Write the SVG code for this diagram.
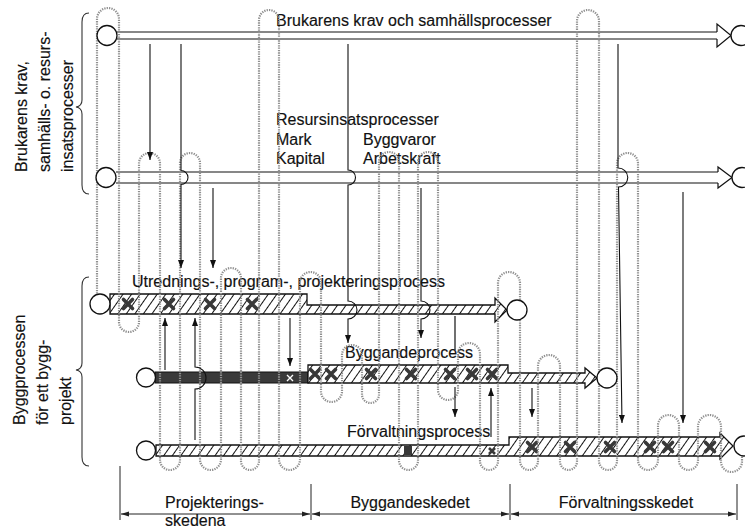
<svg xmlns="http://www.w3.org/2000/svg" width="745" height="528" viewBox="0 0 745 528">
<style>
.t{font-family:"Liberation Sans",Arial,sans-serif;font-size:16px;fill:#111;stroke:#111;stroke-width:0.15}
.ln{fill:none;stroke:#111;stroke-width:1.2}
.ar{fill:none;stroke:#111;stroke-width:1.1;marker-end:url(#ah)}
.cir{fill:#fff;stroke:#111;stroke-width:1.3}
.bar{fill:url(#hatch);stroke:#111;stroke-width:1.3}
.dark{fill:#3a3a3a;stroke:#111;stroke-width:1.2}
.mean{fill:none;stroke:#909090;stroke-width:2.2;stroke-dasharray:1.3 1.1}
.ax{fill:none;stroke:#222;stroke-width:1;marker-start:url(#sa);marker-end:url(#sa)}
.tick{stroke:#222;stroke-width:1}
.brace{fill:none;stroke:#333;stroke-width:1.1}
.cx{fill:none;stroke:#383838;stroke-width:3.6;stroke-linecap:round}
</style>
<defs>
<pattern id="hatch" patternUnits="userSpaceOnUse" width="7" height="10" patternTransform="rotate(35)">
<rect width="7" height="10" fill="#fff"/>
<line x1="3.5" y1="-1" x2="3.5" y2="11" stroke="#111" stroke-width="1"/>
</pattern>
<marker id="ah" markerWidth="8" markerHeight="6" refX="8" refY="3" orient="auto" markerUnits="userSpaceOnUse">
<path d="M0,0 L8,3 L0,6 z" fill="#111"/>
</marker>
<marker id="sa" markerWidth="8" markerHeight="6" refX="8" refY="3" orient="auto-start-reverse" markerUnits="userSpaceOnUse">
<path d="M0,0.5 L8,3 L0,5.5 z" fill="#222"/>
</marker>
<g id="cross"><path class="cx" d="M-4.5,-4.5 L4.5,4.5 M4.5,-4.5 L-4.5,4.5"/></g>
</defs>

<g id="braces">
<path class="brace" d="M89 13 Q82 13 82 22 L82 100 Q82 106 76 107 Q82 108 82 114 L82 185 Q82 194 89 194"/>
<path class="brace" d="M89 277 Q82 277 82 286 L82 363 Q82 369 76 370 Q82 371 82 377 L82 457 Q82 466 89 466"/>
</g>

<g id="side-labels">
<text class="t" transform="translate(27,172) rotate(-90)">Brukarens krav,</text>
<text class="t" transform="translate(50,172) rotate(-90)">samhälls- o. resurs-</text>
<text class="t" transform="translate(73,172) rotate(-90)">insatsprocesser</text>
<text class="t" transform="translate(25,425) rotate(-90)">Byggprocessen</text>
<text class="t" transform="translate(48,425) rotate(-90)">för ett bygg-</text>
<text class="t" transform="translate(71,425) rotate(-90)">projekt</text>
</g>

<g id="row-brukarens">
<line class="ln" x1="117" y1="32" x2="717" y2="32"/>
<line class="ln" x1="117" y1="39" x2="717" y2="39"/>
<path class="ln" d="M717 32 L717 24 L731 35.5 L717 47 L717 39"/>
<text class="t" x="276" y="26">Brukarens krav och samhällsprocesser</text>
</g>

<g id="row-resurs">
<line class="ln" x1="116" y1="172" x2="718" y2="172"/>
<line class="ln" x1="116" y1="183" x2="718" y2="183"/>
<path class="ln" d="M718 172 L718 167 L732 177.5 L718 188 L718 183"/>
<text class="t" x="276" y="125">Resursinsatsprocesser</text>
<text class="t" x="276" y="145">Mark</text>
<text class="t" x="363" y="145">Byggvaror</text>
<text class="t" x="276" y="164">Kapital</text>
<text class="t" x="363" y="164">Arbetskraft</text>
</g>

<g id="bar-utredning">
<path class="bar" d="M110 294 L307 294 L307 305 L495 305 L495 298 L507 310 L495 322 L495 314 L110 314 Z"/>
<use href="#cross" x="128" y="304"/>
<use href="#cross" x="169" y="304"/>
<use href="#cross" x="210" y="304"/>
<use href="#cross" x="252" y="304"/>
<text class="t" x="132" y="287">Utrednings-, program-, projekteringsprocess</text>
</g>

<g id="bar-byggande">
<path class="dark" d="M155 372 L308 372 L308 383 L155 383 Z"/>
<path d="M287 375 L293 381 M293 375 L287 381" stroke="#fff" stroke-width="1.4"/>
<path class="bar" d="M308 365 L508 365 L508 373 L585 373 L585 368 L597 378 L585 388 L585 383 L308 383 Z"/>
<use href="#cross" x="315" y="374"/>
<use href="#cross" x="331" y="374"/>
<use href="#cross" x="371" y="374"/>
<use href="#cross" x="411" y="374"/>
<use href="#cross" x="450" y="374"/>
<use href="#cross" x="472" y="374"/>
<use href="#cross" x="492" y="374"/>
<text class="t" x="345" y="358">Byggandeprocess</text>
</g>

<g id="bar-forvaltning">
<path class="bar" d="M156 445 L509 445 L509 437 L720 437 L720 433 L733 446 L720 459 L720 456 L156 456 Z"/>
<rect x="404" y="446" width="8" height="9" fill="#383838"/>
<path d="M489 448 L495 454 M495 448 L489 454" stroke="#383838" stroke-width="2.6"/>
<use href="#cross" x="532" y="447"/>
<use href="#cross" x="570" y="447"/>
<use href="#cross" x="610" y="447"/>
<use href="#cross" x="650" y="447"/>
<use href="#cross" x="668" y="447"/>
<use href="#cross" x="710" y="447"/>
<text class="t" x="347" y="437">Förvaltningsprocess</text>
</g>

<g id="feedback-loop">
<path class="mean" d="M97 296 L97 19 A11 11 0 0 1 119 19 L119 322 A10 10 0 0 0 139 322 L139 163.5 A10.5 10.5 0 0 1 160 163.5 L160 460 A10 10 0 0 0 180 460 L180 163 A10 10 0 0 1 200 163 L200 459.5 A10.5 10.5 0 0 0 221 459.5 L221 278 A10 10 0 0 1 241 278 L241 461 A9 9 0 0 0 259 461 L259 20 A10 10 0 0 1 279 20 L279 459.5 A10.5 10.5 0 0 0 300 459.5 L300 282.5 A10.5 10.5 0 0 1 321 282.5 L321 391.5 A10.5 10.5 0 0 0 342 391.5 L342 355 A10 10 0 0 1 362 355 L362 394.5 A8.5 8.5 0 0 0 379 394.5 L379 162 A10 10 0 0 1 399 162 L399 460.5 A9.5 9.5 0 0 0 418 460.5 L418 162 A10 10 0 0 1 438 162 L438 390 A10 10 0 0 0 458 390 L458 354 A11 11 0 0 1 480 354 L480 461 A9 9 0 0 0 498 461 L498 283 A11 11 0 0 1 520 283 L520 461 A9 9 0 0 0 538 461 L538 366 A11 11 0 0 1 560 366 L560 461.5 A8.5 8.5 0 0 0 577 461.5 L577 21 A11 11 0 0 1 599 21 L599 461 A9 9 0 0 0 617 461 L617 163.5 A10.5 10.5 0 0 1 638 163.5 L638 460 A10 10 0 0 0 658 460 L658 425.5 A10.5 10.5 0 0 1 679 425.5 L679 460.5 A9.5 9.5 0 0 0 698 460.5 L698 426.5 A11.5 11.5 0 0 1 721 426.5 L721 461.5 A10.5 10.5 0 0 0 742 461.5 L742 456"/>
</g>

<g id="circles">
<circle class="cir" cx="107" cy="35.5" r="10"/>
<circle class="cir" cx="741" cy="35.5" r="10"/>
<circle class="cir" cx="106" cy="177.5" r="10"/>
<circle class="cir" cx="742" cy="177.5" r="10"/>
<circle class="cir" cx="100" cy="304" r="10"/>
<circle class="cir" cx="517" cy="310" r="10"/>
<circle class="cir" cx="146" cy="377.5" r="9.5"/>
<circle class="cir" cx="607" cy="378" r="10"/>
<circle class="cir" cx="146" cy="450.5" r="9.5"/>
<circle class="cir" cx="744" cy="446" r="10"/>
</g>

<g id="connectors">
<path class="ar" d="M150 44 L150 160"/>
<path class="ar" d="M181 44 L181 170.5 A7 7 0 0 1 181 184.5 L181 268"/>
<path class="ar" d="M213 188 L213 268"/>
<path class="ar" d="M348 44 L348 170 A7.5 7.5 0 0 1 348 185 L348 301 A9 9 0 0 1 348 319 L348 343"/>
<path class="ar" d="M421 188 L421 301 A9 9 0 0 1 421 319 L421 338"/>
<path class="ln" d="M455 316 L455 350"/>
<path class="ar" d="M455 387 L455 417"/>
<path class="ar" d="M165 370 L165 318"/>
<path class="ar" d="M195 440 L195 389 A11 11 0 0 0 195 367 L195 318"/>
<path class="ar" d="M290 318 L290 366"/>
<path class="ar" d="M491 437 L491 388"/>
<path class="ar" d="M532 388 L532 417"/>
<path class="ar" d="M618 44 L618 168 A9.5 9.5 0 0 1 618.5 187 L622 423"/>
<path class="ar" d="M683 192 L683 423"/>
</g>

<g id="phase-axis">
<line class="tick" x1="120" y1="466" x2="120" y2="520"/>
<line class="tick" x1="311" y1="484" x2="311" y2="520"/>
<line class="tick" x1="510" y1="484" x2="510" y2="520"/>
<line class="tick" x1="737" y1="484" x2="737" y2="520"/>
<line class="ax" x1="121" y1="514" x2="310" y2="514"/>
<line class="ax" x1="312" y1="514" x2="509" y2="514"/>
<line class="ax" x1="511" y1="514" x2="736" y2="514"/>
<text class="t" x="165" y="508">Projekterings-</text>
<text class="t" x="165" y="526">skedena</text>
<text class="t" x="410" y="508" text-anchor="middle">Byggandeskedet</text>
<text class="t" x="626" y="508" text-anchor="middle">Förvaltningsskedet</text>
</g>
</svg>
